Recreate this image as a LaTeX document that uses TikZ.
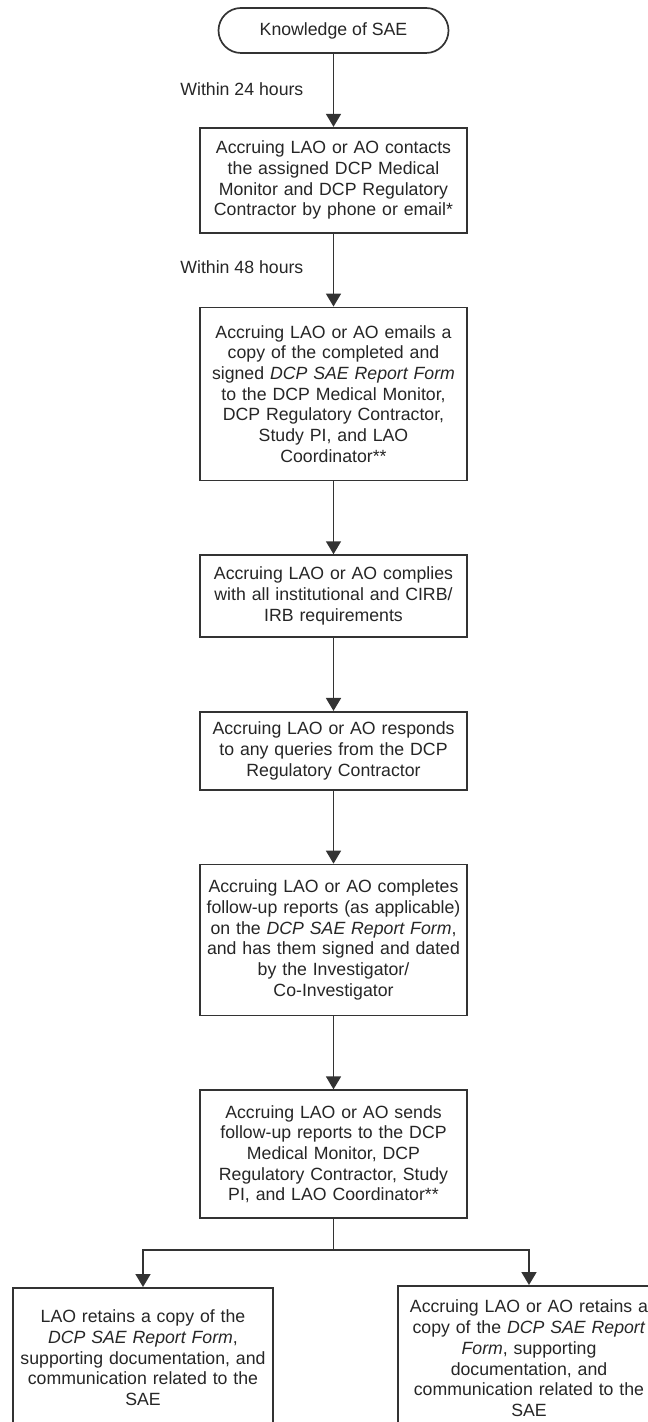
\documentclass[tikz,border=0pt]{standalone}
\usepackage{fontspec}
\setmainfont{Liberation Sans}
\usetikzlibrary{arrows.meta,positioning}
\usepackage{xcolor}
\definecolor{lineink}{HTML}{333333}
\definecolor{textink}{HTML}{262626}
\tikzset{
  boxfont/.style={font=\fontsize{8.85}{10.35}\selectfont},
  startbox/.style={draw=lineink,line width=0.85pt,text=textink,boxfont,
    rounded corners=11.25pt,minimum width=115pt,minimum height=22.5pt,inner sep=2pt},
  stepbox/.style={draw=lineink,line width=0.85pt,text=textink,boxfont,align=center,
    text width=130pt,inner xsep=1.75pt,inner ysep=2pt},
  leafbox/.style={stepbox,anchor=north,text width=124pt},
  timenote/.style={text=textink,boxfont,anchor=west,inner sep=0pt},
  flow/.style={-{Triangle[width=7.5pt,length=6.5pt]},draw=lineink,line width=0.85pt}
}

\begin{document}
\begin{tikzpicture}[x=0.5pt,y=-0.5pt,node distance=36.5pt]
  % Page frame
  \useasboundingbox (0,0) rectangle (647,1422);
  \fill[white] (0,0) rectangle (647,1422);
  % Start
  \node[startbox] (knowsae) at (333.5,30.5) {Knowledge of SAE};
  % Main steps
  \node[stepbox,minimum height=52.5pt,below=of knowsae] (contact)
    {Accruing LAO or AO contacts\\the assigned DCP Medical\\Monitor and DCP Regulatory\\Contractor by phone or email*};
  \node[stepbox,minimum height=86.5pt,below=of contact] (emailform)
    {Accruing LAO or AO emails a\\copy of the completed and\\signed \textit{DCP SAE Report Form}\\to the DCP Medical Monitor,\\DCP Regulatory Contractor,\\Study PI, and LAO\\Coordinator**};
  \node[stepbox,minimum height=41pt,below=of emailform] (comply)
    {Accruing LAO or AO complies\\with all institutional and CIRB/\\IRB requirements};
  \node[stepbox,minimum height=39pt,below=of comply] (respond)
    {Accruing LAO or AO responds\\to any queries from the DCP\\Regulatory Contractor};
  \node[stepbox,minimum height=75.5pt,below=of respond] (followup)
    {Accruing LAO or AO completes\\follow-up reports (as applicable)\\on the \textit{DCP SAE Report Form},\\and has them signed and dated\\by the Investigator/\\Co-Investigator};
  \node[stepbox,minimum height=64pt,below=of followup] (sendreports)
    {Accruing LAO or AO sends\\follow-up reports to the DCP\\Medical Monitor, DCP\\Regulatory Contractor, Study\\PI, and LAO Coordinator**};
  % Record keeping
  \node[leafbox,minimum width=130pt,minimum height=70pt] (keeplao) at (143,1287)
    {LAO retains a copy of the\\\textit{DCP SAE Report Form},\\supporting documentation, and\\communication related to the\\SAE};
  \node[leafbox,minimum width=131pt,minimum height=72.5pt] (keepao) at (529,1285)
    {Accruing LAO or AO retains a\\copy of the \textit{DCP SAE Report}\\\textit{Form}, supporting\\documentation, and\\communication related to the\\SAE};
  % Time limits
  \node[timenote] (within24) at (180,89) {Within 24 hours};
  \node[timenote] (within48) at (180,267) {Within 48 hours};
  % Connectors
  \draw[flow] (knowsae) -- (contact);
  \draw[flow] (contact) -- (emailform);
  \draw[flow] (emailform) -- (comply);
  \draw[flow] (comply) -- (respond);
  \draw[flow] (respond) -- (followup);
  \draw[flow] (followup) -- (sendreports);
  \coordinate[below=15.5pt of sendreports.south] (split);
  \draw[draw=lineink,line width=0.85pt] (sendreports) -- (split);
  \draw[flow] (split) -| (keeplao.north);
  \draw[flow] (split) -| (keepao.north);
\end{tikzpicture}
\end{document}
